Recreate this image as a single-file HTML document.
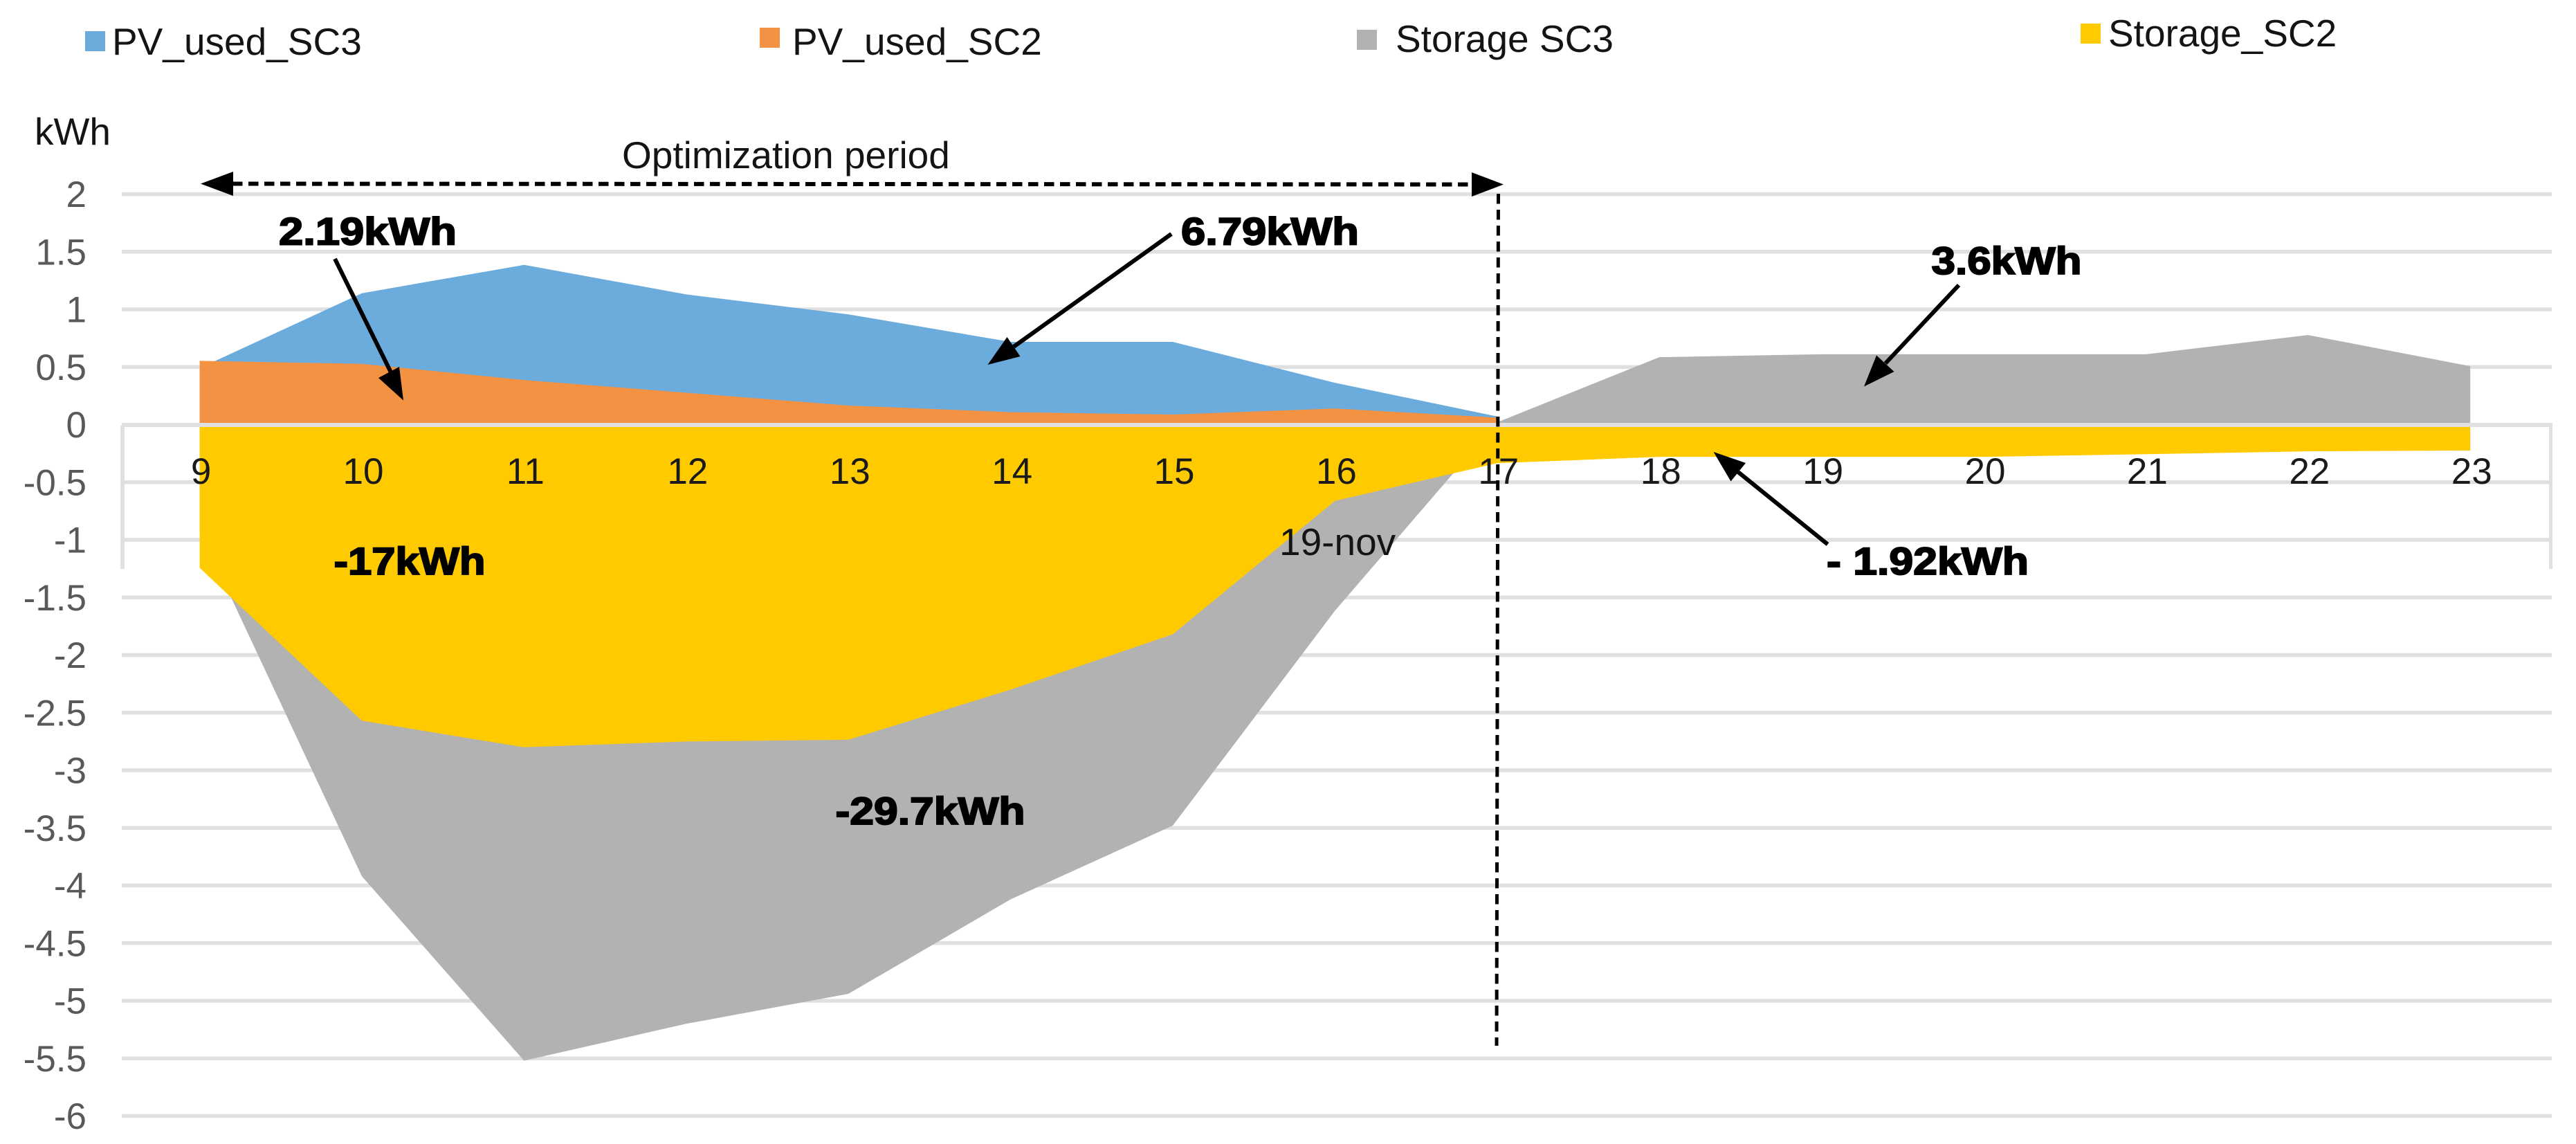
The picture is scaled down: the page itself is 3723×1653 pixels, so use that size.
<!DOCTYPE html>
<html lang="en">
<head>
<meta charset="utf-8">
<title>PV used and storage, 19-nov</title>
<style>
html,body{margin:0;padding:0;background:#fff;width:3723px;height:1653px;overflow:hidden}
svg{display:block;font-family:"Liberation Sans",Arial,sans-serif}
.b{font-weight:bold;font-size:56px;fill:#000;stroke:#000;stroke-width:2px}
.t{font-size:55px;fill:#141414}
</style>
</head>
<body>
<svg id="chart" xmlns="http://www.w3.org/2000/svg" width="3723" height="1653" viewBox="0 0 3723 1653">
  <rect x="0" y="0" width="3723" height="1653" fill="#fff"/>
  <g id="grid"></g>
  <g id="areas"></g>
  <g id="axis"></g>

  <g>
    <g>
      <rect x="123" y="45" width="29" height="29" fill="#6CACDD"/>
      <text class="t" x="162" y="79">PV_used_SC3</text>
    </g>
    <g>
      <rect x="1098" y="40" width="29" height="29" fill="#F29242"/>
      <text class="t" x="1145" y="79">PV_used_SC2</text>
    </g>
    <g>
      <rect x="1961" y="43" width="29" height="29" fill="#B2B2B2"/>
      <text class="t" x="2017" y="75">Storage SC3</text>
    </g>
    <g>
      <rect x="3007" y="34" width="29" height="29" fill="#FFCB00"/>
      <text class="t" x="3047" y="67">Storage_SC2</text>
    </g>
  </g>

  <text class="t" x="50" y="209">kWh</text>
  <text class="t" x="899" y="243">Optimization period</text>
  <text class="t" x="1849" y="802">19-nov</text>

  <g>
    <line x1="336" y1="265.5" x2="2127" y2="266.5" stroke="#000" stroke-width="6" stroke-dasharray="14.5 8.5"/>
    <polygon points="290,265.5 337,248 337,283" fill="#000"/>
    <polygon points="2173,266.5 2127,249 2127,284" fill="#000"/>
    <line x1="2165.5" y1="280" x2="2163" y2="1511" stroke="#000" stroke-width="5" stroke-dasharray="14.5 8.5"/>
  </g>

  <g>
    <g>
      <line x1="484" y1="374" x2="566" y2="540" stroke="#000" stroke-width="6"/>
      <polygon points="583,578.5 547,546 577,530" fill="#000"/>
    </g>
    <g>
      <line x1="1693" y1="338" x2="1465" y2="501" stroke="#000" stroke-width="6"/>
      <polygon points="1427.5,527 1455.5,487 1474.5,515" fill="#000"/>
    </g>
    <g>
      <line x1="2831" y1="412" x2="2725" y2="525" stroke="#000" stroke-width="6"/>
      <polygon points="2694,558.5 2712,513.5 2737.5,537" fill="#000"/>
    </g>
    <g>
      <line x1="2641.5" y1="786.5" x2="2512" y2="682" stroke="#000" stroke-width="6"/>
      <polygon points="2476.5,653 2523,669 2501.5,695.5" fill="#000"/>
    </g>
  </g>

  <g>
    <text class="b" x="403" y="353.5" textLength="257" lengthAdjust="spacingAndGlyphs">2.19kWh</text>
    <text class="b" x="1707" y="353.5" textLength="257" lengthAdjust="spacingAndGlyphs">6.79kWh</text>
    <text class="b" x="2791.5" y="396" textLength="217" lengthAdjust="spacingAndGlyphs">3.6kWh</text>
    <text class="b" x="482.5" y="830" textLength="219" lengthAdjust="spacingAndGlyphs">-17kWh</text>
    <text class="b" x="2640" y="830" textLength="292" lengthAdjust="spacingAndGlyphs">- 1.92kWh</text>
    <text class="b" x="1207.5" y="1191" textLength="274" lengthAdjust="spacingAndGlyphs">-29.7kWh</text>
  </g>
</svg>

<script>
const categories = [9, 10, 11, 12, 13, 14, 15, 16, 17, 18, 19, 20, 21, 22, 23];
const yTickValues = [2, 1.5, 1, 0.5, 0, -0.5, -1, -1.5, -2, -2.5, -3, -3.5, -4, -4.5, -5, -5.5, -6];
const storageSC3 = [-0.92, -3.92, -5.52, -5.2, -4.94, -4.12, -3.48, -1.615, 0.02, 0.585, 0.61, 0.61, 0.61, 0.777, 0.507];
const pvUsedSC3 = [0.49, 1.14, 1.386, 1.13, 0.957, 0.718, 0.718, 0.363, 0.07];
const pvUsedSC2 = [0.553, 0.527, 0.387, 0.276, 0.165, 0.108, 0.087, 0.14, 0.06];
const storageSC2 = [-1.243, -2.57, -2.8, -2.75, -2.735, -2.3, -1.82, -0.662, -0.335, -0.28, -0.28, -0.28, -0.257, -0.232, -0.225];

const NS = 'http://www.w3.org/2000/svg';
const xScale = function (i) { return 288.6 + 234.4 * i; };
const yScale = function (v) { return 613.5 - 166.5 * v; };

function areaPoints(values) {
  const pts = [xScale(0).toFixed(1) + ',' + yScale(0).toFixed(1)];
  values.forEach(function (v, i) {
    pts.push(xScale(i).toFixed(1) + ',' + yScale(v).toFixed(1));
  });
  pts.push(xScale(values.length - 1).toFixed(1) + ',' + yScale(0).toFixed(1));
  return pts.join(' ');
}

const grid = document.getElementById('grid');
yTickValues.forEach(function (v) {
  if (v === 0) return;
  const line = document.createElementNS(NS, 'line');
  
  
  line.setAttribute('x1', 176);
  line.setAttribute('x2', 3688);
  line.setAttribute('y1', yScale(v));
  line.setAttribute('y2', yScale(v));
  line.setAttribute('stroke', '#E0E0E0');
  line.setAttribute('stroke-width', 5.5);
  grid.appendChild(line);
});

const areas = document.getElementById('areas');

const greyArea = document.createElementNS(NS, 'polygon');


greyArea.setAttribute('points', areaPoints(storageSC3));
greyArea.setAttribute('fill', '#B2B2B2');
areas.appendChild(greyArea);

const blueArea = document.createElementNS(NS, 'polygon');


blueArea.setAttribute('points', areaPoints(pvUsedSC3));
blueArea.setAttribute('fill', '#6CACDD');
areas.appendChild(blueArea);

const orangeArea = document.createElementNS(NS, 'polygon');


orangeArea.setAttribute('points', areaPoints(pvUsedSC2));
orangeArea.setAttribute('fill', '#F29242');
areas.appendChild(orangeArea);

const yellowArea = document.createElementNS(NS, 'polygon');


yellowArea.setAttribute('points', areaPoints(storageSC2));
yellowArea.setAttribute('fill', '#FFCB00');
areas.appendChild(yellowArea);

const axis = document.getElementById('axis');

const zeroLine = document.createElementNS(NS, 'line');


zeroLine.setAttribute('x1', 176);
zeroLine.setAttribute('x2', 3689);
zeroLine.setAttribute('y1', yScale(0) + 0.5);
zeroLine.setAttribute('y2', yScale(0) + 0.5);
zeroLine.setAttribute('stroke', '#E0E0E0');
zeroLine.setAttribute('stroke-width', 6);
axis.appendChild(zeroLine);

const leftEdge = document.createElementNS(NS, 'line');


leftEdge.setAttribute('x1', 177);
leftEdge.setAttribute('x2', 177);
leftEdge.setAttribute('y1', 615);
leftEdge.setAttribute('y2', 822);
leftEdge.setAttribute('stroke', '#E0E0E0');
leftEdge.setAttribute('stroke-width', 6);
axis.appendChild(leftEdge);

const rightEdge = document.createElementNS(NS, 'line');


rightEdge.setAttribute('x1', 3686.5);
rightEdge.setAttribute('x2', 3686.5);
rightEdge.setAttribute('y1', 611);
rightEdge.setAttribute('y2', 822);
rightEdge.setAttribute('stroke', '#E0E0E0');
rightEdge.setAttribute('stroke-width', 5);
axis.appendChild(rightEdge);

yTickValues.forEach(function (v) {
  const label = document.createElementNS(NS, 'text');
  
  
  label.setAttribute('x', 125);
  label.setAttribute('y', yScale(v) + 18.5);
  label.setAttribute('text-anchor', 'end');
  label.setAttribute('font-size', 53);
  label.setAttribute('fill', '#595959');
  label.textContent = String(v);
  axis.appendChild(label);
});

categories.forEach(function (c, i) {
  const label = document.createElementNS(NS, 'text');
  
  
  label.setAttribute('x', xScale(i) + 2);
  label.setAttribute('y', 699);
  label.setAttribute('text-anchor', 'middle');
  label.setAttribute('font-size', 53);
  label.setAttribute('fill', '#1A1A1A');
  label.textContent = String(c);
  axis.appendChild(label);
});
</script>
</body>
</html>
